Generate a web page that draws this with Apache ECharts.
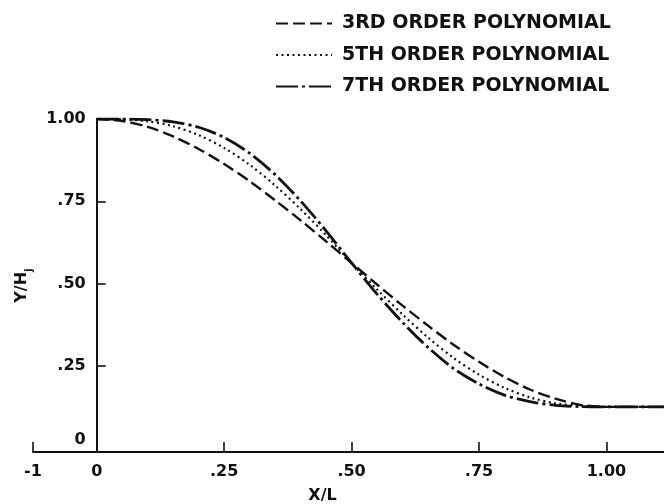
<!DOCTYPE html>
<html><head><meta charset="utf-8">
<script src="https://cdn.jsdelivr.net/npm/echarts@6/dist/echarts.min.js"></script>
<style>html,body{margin:0;padding:0;background:#fff}#c{width:664px;height:504px}</style>
</head><body><div id="c"></div>
<script>
const xs = [0, 0.05, 0.1, 0.15, 0.2, 0.25, 0.3, 0.35, 0.4, 0.45, 0.5, 0.55, 0.6, 0.65, 0.7, 0.75, 0.8, 0.85, 0.9, 0.95, 1.0, 1.05, 1.113];
const y3 = [1.0, 0.994, 0.976, 0.947, 0.909, 0.863, 0.811, 0.753, 0.692, 0.628, 0.5625, 0.497, 0.433, 0.372, 0.314, 0.262, 0.216, 0.178, 0.150, 0.131, 0.125, 0.125, 0.125];
const y5 = [1.0, 0.999, 0.993, 0.978, 0.951, 0.912, 0.861, 0.798, 0.726, 0.647, 0.5625, 0.482, 0.406, 0.336, 0.274, 0.223, 0.183, 0.154, 0.136, 0.128, 0.125, 0.125, 0.125];
const y7 = [1.0, 1.0, 0.998, 0.991, 0.975, 0.944, 0.896, 0.831, 0.751, 0.660, 0.5625, 0.468, 0.382, 0.306, 0.242, 0.195, 0.161, 0.141, 0.130, 0.126, 0.125, 0.125, 0.125];
const seriesNames = ['3RD ORDER POLYNOMIAL', '5TH ORDER POLYNOMIAL', '7TH ORDER POLYNOMIAL'];
const xTickValues = [-0.125, 0, 0.25, 0.5, 0.75, 1.0];
const xTickLabels = ['-1', '0', '.25', '.50', '.75', '1.00'];
const xTickMarks = [-0.125, 0.25, 0.5, 0.75, 1.0];
const yTickValues = [0, 0.25, 0.5, 0.75, 1.0];
const yTickLabels = ['0', '.25', '.50', '.75', '1.00'];
const yTickMarks = [0.25, 0.5, 0.75];

const FONT = 'DejaVu Sans';
const INK = '#111';
const X_MIN = -0.125, X_MAX = 1.113;
const GRID = {left: 33, right: 0, top: 119, bottom: 52};
function lookup(vals, labels, v) {
  const i = vals.findIndex(t => Math.abs(t - v) < 1e-6);
  return i < 0 ? '' : labels[i];
}
function pairs(ys) { return xs.map((x, i) => [x, ys[i]]); }
// place the y axis at x = 0 of the x scale
const gridWidth = 664 - GRID.left - GRID.right;
const yAxisOffset = -((0 - X_MIN) / (X_MAX - X_MIN)) * gridWidth;

const chart = echarts.init(document.getElementById('c'), null, {renderer: 'canvas'});
chart.setOption({
  animation: false,
  backgroundColor: '#fff',
  grid: Object.assign({outerBoundsMode: 'none', containLabel: false}, GRID),
  legend: {
    data: seriesNames,
    orient: 'vertical',
    left: 270, top: 9,
    itemWidth: 56, itemHeight: 14, itemGap: 12.5,
    itemStyle: {opacity: 0},
    textStyle: {fontFamily: FONT, fontWeight: 'bold', fontSize: 19, color: INK, padding: [0, 0, 0, 5]}
  },
  xAxis: {
    type: 'value', min: X_MIN, max: X_MAX,
    axisLine: {onZero: false, lineStyle: {color: INK, width: 2}},
    splitLine: {show: false},
    axisTick: {show: true, inside: true, length: 10, customValues: xTickMarks, lineStyle: {color: INK, width: 1.6}},
    axisLabel: {customValues: xTickValues, formatter: v => lookup(xTickValues, xTickLabels, v),
      margin: 12, fontFamily: FONT, fontWeight: 'bold', fontSize: 16, color: INK},
    name: 'X/L', nameLocation: 'middle', nameGap: 36, nameMoveOverlap: false,
    nameTextStyle: {fontFamily: FONT, fontWeight: 'bold', fontSize: 16, color: INK, padding: [0, 52, 0, 0]}
  },
  yAxis: {
    type: 'value', min: -0.012, max: 1.0,
    position: 'left', offset: yAxisOffset,
    axisLine: {onZero: false, lineStyle: {color: INK, width: 2}},
    splitLine: {show: false},
    axisTick: {show: true, inside: true, length: 9, customValues: yTickMarks, lineStyle: {color: INK, width: 1.6}},
    axisLabel: {customValues: yTickValues,
      formatter: v => { const s = lookup(yTickValues, yTickLabels, v); return v === 0 ? '{z|' + s + '}' : s; },
      margin: 11, fontFamily: FONT, fontWeight: 'bold', fontSize: 16, color: INK,
      rich: {z: {fontFamily: FONT, fontWeight: 'bold', fontSize: 16, color: INK, padding: [0, 0, 16, 0]}}},
    name: '{m|Y/H}{s|j}', nameLocation: 'middle', nameGap: 62, nameRotate: 90, nameMoveOverlap: false,
    nameTextStyle: {rich: {
      m: {fontFamily: FONT, fontWeight: 'bold', fontSize: 16, color: INK, lineHeight: 26},
      s: {fontFamily: FONT, fontWeight: 'bold', fontSize: 11, color: INK, lineHeight: 26, verticalAlign: 'bottom'}
    }}
  },
  series: [
    {name: seriesNames[0], type: 'line', data: pairs(y3), symbol: 'none', showSymbol: false, smooth: 0.3,
     lineStyle: {color: INK, width: 2.4, type: [12, 5]}, itemStyle: {color: INK}},
    {name: seriesNames[1], type: 'line', data: pairs(y5), symbol: 'none', showSymbol: false, smooth: 0.3,
     lineStyle: {color: INK, width: 2.2, type: [2, 3.5]}, itemStyle: {color: INK}},
    {name: seriesNames[2], type: 'line', data: pairs(y7), symbol: 'none', showSymbol: false, smooth: 0.3,
     lineStyle: {color: INK, width: 2.8, type: [22, 4, 3, 4]}, itemStyle: {color: INK}}
  ]
});
</script></body></html>
